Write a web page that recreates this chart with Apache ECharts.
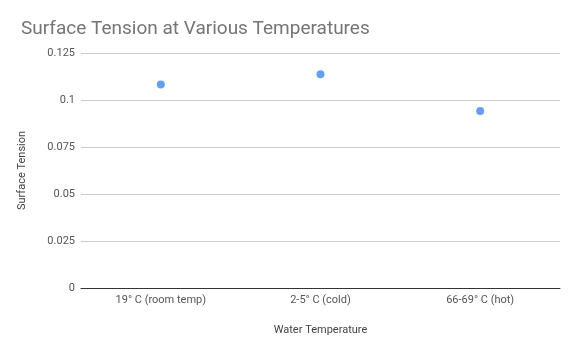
<!DOCTYPE html>
<html>
<head>
<meta charset="utf-8">
<script src="https://cdn.jsdelivr.net/npm/echarts@6/dist/echarts.min.js"></script>
<style>
html,body{margin:0;padding:0;background:#fff;}
#main{width:578px;height:352px;}
</style>
</head>
<body>
<div id="main"></div>
<script>
var categories = ['19° C (room temp)', '2-5° C (cold)', '66-69° C (hot)'];
var tensionValues = [0.1083, 0.1137, 0.0942];
var yTicks = [0, 0.025, 0.05, 0.075, 0.1, 0.125];

var chart = echarts.init(document.getElementById('main'));

chart.setOption({
    backgroundColor: '#fff',
    textStyle: { fontFamily: 'Roboto' },
    title: {
        text: 'Surface Tension at Various Temperatures',
        left: 16,
        top: 15,
        textStyle: { fontFamily: 'Roboto', fontSize: 19, fontWeight: 'normal', color: '#757575' }
    },
    grid: { left: 81, right: 18, top: 53, bottom: 64 },
    xAxis: {
        type: 'category',
        data: categories,
        name: 'Water Temperature',
        nameLocation: 'middle',
        nameGap: 37,
        nameTextStyle: { fontSize: 11, color: '#444' },
        axisLine: { lineStyle: { color: '#333', width: 1 } },
        axisTick: { show: false },
        axisLabel: { fontSize: 11, color: '#555', margin: 7 }
    },
    yAxis: {
        type: 'value',
        min: yTicks[0],
        max: yTicks[yTicks.length - 1],
        interval: 0.025,
        name: 'Surface Tension',
        nameLocation: 'middle',
        nameGap: 53,
        nameTextStyle: { fontSize: 11, color: '#444' },
        axisLine: { show: false },
        axisTick: { show: false },
        axisLabel: { fontSize: 11, color: '#555', margin: 6 },
        splitLine: { lineStyle: { color: '#ccc', width: 1 } }
    },
    series: [{
        type: 'scatter',
        data: tensionValues,
        symbolSize: 8,
        itemStyle: { color: '#4285f4' }
    }]
});
</script>
</body>
</html>
